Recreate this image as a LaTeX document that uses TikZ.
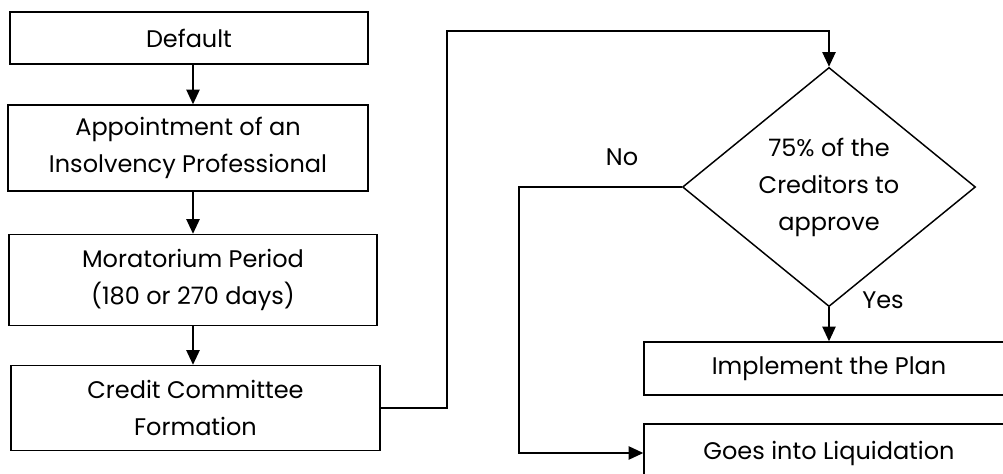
\documentclass[tikz,border=0pt]{standalone}
\usepackage{fontspec}
\setmainfont{Poppins}
\usetikzlibrary{calc,positioning,arrows.meta,shapes.geometric}

\tikzset{
	stepbox/.style={draw, line width=1.1pt, inner sep=0pt, align=center, font=\fontsize{18pt}{27.75pt}\selectfont},
	flow/.style={line width=1.1pt, -{Triangle[width=10pt,length=11pt]}},
	tag/.style={font=\fontsize{18pt}{27.75pt}\selectfont},
}

\begin{document}
\begin{tikzpicture}[x=0.75pt,y=-0.75pt]
			\useasboundingbox (0,0) rectangle (1003,474);
			\clip (0,0) rectangle (1003,474);

			\node[stepbox, minimum width=268.5pt, minimum height=39pt] (default) at (189,38) {Default};
			\node[stepbox, minimum width=270pt, minimum height=64.5pt] (appoint) at (188,148) {Appointment of an\\Insolvency Professional};
			\node[stepbox, minimum width=276pt, minimum height=68.25pt] (morat) at (193,280) {Moratorium Period\\(180 or 270 days)};
			\node[stepbox, minimum width=276.75pt, minimum height=63.75pt] (credit) at (195.5,408) {Credit Committee\\Formation};

			\node[stepbox, diamond, minimum width=219.75pt, minimum height=174.75pt] (vote) at (829,187) {75\% of the\\Creditors to\\approve};
			\node[stepbox, minimum width=277.5pt, minimum height=39.75pt] (plan) at (829,368.5) {Implement the Plan};
			\node[stepbox, minimum width=277.5pt, minimum height=43.5pt] (liquid) at (829,453) {Goes into Liquidation};

			\draw[flow] (default.south -| 193,0) -- (appoint.north -| 193,0);
			\draw[flow] (appoint.south -| 193,0) -- (morat.north -| 193,0);
			\draw[flow] (morat.south -| 193,0) -- (credit.north -| 193,0);

			\coordinate (up) at (447,31);
			\coordinate (down) at (519,453);
			\draw[flow] (credit.east) -| (up) -| (vote.north);
			\draw[flow] (vote.west) -| (down) -- (liquid.west);
			\draw[flow] (vote.south) -- (plan.north);

			\node[tag] (no) at (622,157) {No};
			\node[tag] (yes) at (883,300) {Yes};
		\end{tikzpicture}
\end{document}
